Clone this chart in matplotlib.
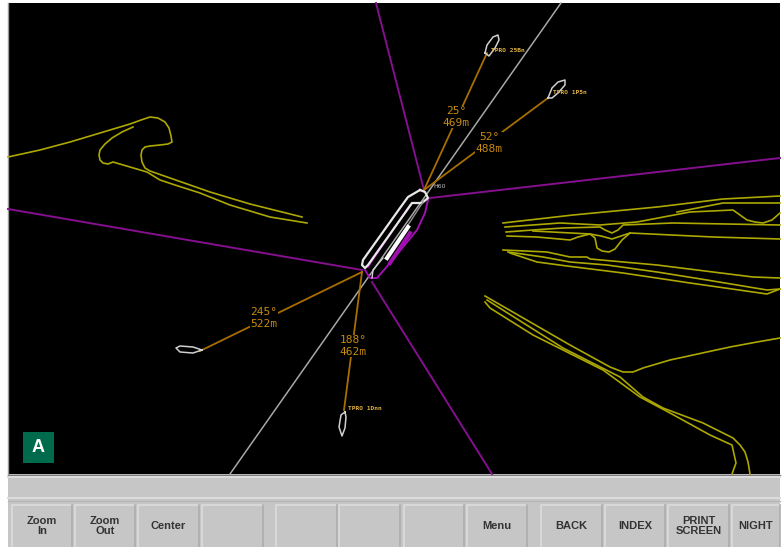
import matplotlib
matplotlib.use('Agg')
import matplotlib.pyplot as plt
from matplotlib.patches import Rectangle

coast_lines = [
    [(8,157),(40,150),(70,142),(100,133),(130,124),(141,120),(150,117),(158,118),(165,122),(169,128),(171,136),(172,142),(168,144),(160,145),(150,146),(145,147),(142,150),(141,155),(142,162),(145,168),(150,171),(170,178),(210,192),(250,204),(302,217)],
    [(133,127),(122,132),(112,138),(105,144),(100,150),(99,155),(100,160),(103,163),(108,164),(113,162),(130,167),(147,172),(160,180),(175,185),(200,193),(230,205),(270,217),(307,223)],
    [(485,296),(570,345),(610,367),(623,372),(633,372),(643,368),(670,360),(730,347),(757,342),(780,338)],
    [(487,300),(563,348),(620,377),(643,397),(663,408),(703,423),(733,438),(740,445),(745,452),(748,462),(750,474)],
    [(485,302),(490,308),(533,335),(603,370),(640,397),(670,413),(710,435),(732,445),(734,454),(736,463),(732,474)],
    [(503,223),(573,215),(657,207),(723,199),(780,196)],
    [(505,227),(560,223),(600,225),(637,222),(690,212),(733,210),(740,215),(747,220),(755,222),(763,223),(772,220),(780,213)],
    [(506,232),(533,230),(563,228),(600,227),(605,230),(612,233),(618,230),(623,225),(673,223),(780,225)],
    [(677,212),(723,203),(780,203)],
    [(507,236),(537,237),(570,240),(578,237),(590,234),(601,236),(612,239),(630,233),(713,237),(780,239)],
    [(533,231),(590,234),(595,238),(597,248),(602,251),(609,252),(615,249),(622,240),(630,233)],
    [(503,250),(547,252),(570,257),(587,257),(590,259),(657,265),(753,277),(780,278)],
    [(508,252),(543,257),(570,262),(607,265),(657,272),(707,280),(767,290),(780,289)],
    [(510,253),(537,262),(567,266),(623,273),(690,283),(767,294),(780,289)],
]
zone_lines = [
    [(376,3),(424,190)],
    [(430,198),(780,158)],
    [(8,209),(362,270)],
    [(372,282),(492,474)],
]
heading_line = [(561,3),(230,474)]
bearing_lines = [
    [(424,190),(487,53)],
    [(424,190),(548,98)],
    [(362,272),(200,351)],
    [(362,272),(344,410)],
]
bearing_labels = ['25°\n469m', '52°\n488m', '245°\n522m', '188°\n462m']
bearing_label_pos = [(456,117), (489,143), (264,318), (353,346)]

own_ship = [(420,190),(408,197),(400,208),(363,260),(362,265),(365,268),(368,265),(412,203),(422,203),(428,198),(425,192),(420,190)]
own_ship_side = [(428,200),(425,213),(417,230),(390,263),(377,278),(370,278),(365,270)]
own_ship_inner = [(410,205),(368,267)]
side_hatch = [(410,233),(390,263)]
deck_line = [(408,227),(387,258)]
deck_thin = [(423,202),(408,225)]
deck_aft = [(383,258),(373,270),(372,278)]
other_ships = [
    [(485,53),(487,45),(493,37),(498,35),(499,40),(495,48),(489,56),(485,53)],
    [(548,98),(552,88),(558,82),(565,80),(565,85),(558,93),(552,98),(548,98)],
    [(202,350),(193,347),(180,346),(176,348),(180,352),(193,353),(202,350)],
    [(345,412),(341,415),(339,427),(342,436),(345,428),(346,417),(345,412)],
]
ship_names = ['TPRO 25Bn', 'TPRO 1P5n', 'TPRO 1Dnn']
ship_name_pos = [(491,51), (553,93), (348,408)]
own_name = 'H60'
own_name_pos = (433,186)

button_left = [12,75,138,202,276,339,404,467,541,605,668,732]
button_right = [72,135,199,263,337,400,464,527,602,665,729,780]
button_text = ['Zoom\nIn','Zoom\nOut','Center','','','','','Menu','BACK','INDEX','PRINT\nSCREEN','NIGHT']

fig = plt.figure(figsize=(7.84,5.47), dpi=100)
ax = fig.add_axes([0,0,1,1])
ax.set_xlim(0,784)
ax.set_ylim(547,0)
ax.axis('off')

# screen, grey panel below it
ax.add_patch(Rectangle((8,3),772,471,fc='black',ec='none',zorder=0))
ax.add_patch(Rectangle((8,474),772,73,fc='#c6c6c6',ec='none',zorder=0))
ax.plot([8,780],[474.5,474.5],color='#777777',lw=1,zorder=1)
ax.plot([8,8],[3,474],color='#999999',lw=1,zorder=1)
ax.plot([8,780],[477,477],color='#dcdcdc',lw=1.5,zorder=1)
ax.plot([8,780],[498,498],color='#dcdcdc',lw=1.5,zorder=1)
ax.plot([8,780],[501,501],color='#b8b8b8',lw=1,zorder=1)

for line in coast_lines:
    ax.plot([p[0] for p in line],[p[1] for p in line],color='#aca800',lw=1.2,zorder=2)
for line in zone_lines:
    ax.plot([p[0] for p in line],[p[1] for p in line],color='#85108f',lw=1.4,zorder=2)
ax.plot([p[0] for p in heading_line],[p[1] for p in heading_line],color='#a8a8a8',lw=1.1,zorder=2)
for line in bearing_lines:
    ax.plot([p[0] for p in line],[p[1] for p in line],color='#a86e00',lw=1.3,zorder=3)

# white ship outlines go over the bearings
ax.plot([p[0] for p in own_ship_side],[p[1] for p in own_ship_side],color='#a010b0',lw=1.4,zorder=4)
ax.plot([p[0] for p in own_ship_inner],[p[1] for p in own_ship_inner],color='#a010b0',lw=1.2,zorder=4)
ax.plot([p[0] for p in side_hatch],[p[1] for p in side_hatch],color='#a010b0',lw=2.8,zorder=4)
ax.plot([p[0] for p in own_ship],[p[1] for p in own_ship],color='#e8e8e8',lw=1.6,zorder=5)
ax.plot([p[0] for p in deck_thin],[p[1] for p in deck_thin],color='#909090',lw=1,zorder=5)
ax.plot([p[0] for p in deck_aft],[p[1] for p in deck_aft],color='#d0d0d0',lw=1,zorder=5)
ax.plot([p[0] for p in deck_line],[p[1] for p in deck_line],color='white',lw=3,zorder=5)
for ship in other_ships:
    ax.plot([p[0] for p in ship],[p[1] for p in ship],color='#d0d0d0',lw=1.1,zorder=4)

for label, pos in zip(bearing_labels, bearing_label_pos):
    ax.text(pos[0],pos[1],label,color='#c88c10',fontsize=8,family='DejaVu Sans Mono',
            ha='center',va='center',linespacing=1.2,zorder=6,
            bbox=dict(fc='black',ec='none',pad=0.3))
for name, pos in zip(ship_names, ship_name_pos):
    ax.text(pos[0],pos[1],name,color='#e0b040',fontsize=4.5,family='DejaVu Sans Mono',
            ha='left',va='center',fontweight='bold',zorder=6)
ax.text(own_name_pos[0],own_name_pos[1],own_name,color='#c0c0c0',fontsize=4.5,
        ha='left',va='center',zorder=6)

# green tag
ax.add_patch(Rectangle((23,432),31,31,fc='#006a4d',ec='none',zorder=7))
ax.text(38.5,448,'A',color='white',fontsize=13,fontweight='bold',family='Liberation Sans',
        ha='center',va='center',zorder=8)

# buttons
for left, right, text in zip(button_left, button_right, button_text):
    ax.add_patch(Rectangle((left,505),right-left,42,fc='#c6c6c6',ec='none',zorder=1))
    ax.plot([left,left,right],[547,505,505],color='#dcdcdc',lw=1.2,zorder=2)
    ax.plot([right,right],[505,547],color='#adadad',lw=1.2,zorder=2)
    if text:
        ax.text((left+right)/2,526,text,color='#333333',fontsize=8,fontweight='bold',
                family='Liberation Sans',ha='center',va='center',linespacing=1.05,zorder=3)

fig.savefig('out.png',dpi=100,facecolor='white')
